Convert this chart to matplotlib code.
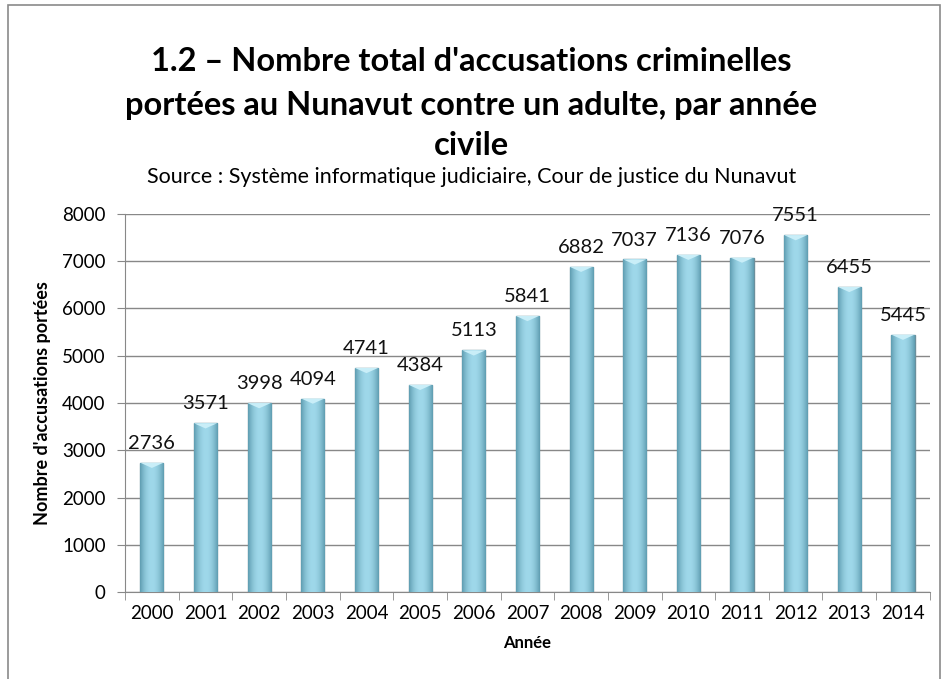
import matplotlib.pyplot as plt
import numpy as np
from matplotlib.patches import Rectangle, Polygon

plt.rcParams['font.family'] = ['Lato', 'DejaVu Sans']

years = ['2000', '2001', '2002', '2003', '2004', '2005', '2006', '2007',
         '2008', '2009', '2010', '2011', '2012', '2013', '2014']
charges = [2736, 3571, 3998, 4094, 4741, 4384, 5113, 5841,
           6882, 7037, 7136, 7076, 7551, 6455, 5445]

fig = plt.figure(figsize=(9.43, 6.79), dpi=100)
ax = fig.add_axes([0.1326, 0.128, 0.8534, 0.557])

x = np.arange(len(years))
bars = ax.bar(x, charges, width=0.43, color='#86c6db', edgecolor='#6b8f9c', linewidth=1.0, zorder=3)

# horizontal shading inside each bar (dark edges, light middle)
grad = np.abs(np.linspace(-1, 1, 64)) ** 2
cmap = plt.matplotlib.colors.LinearSegmentedColormap.from_list('bar', ['#9fd8ea', '#5f9db1'])
for b in bars:
    im = ax.imshow(grad[None, :], cmap=cmap, aspect='auto', zorder=3.5,
                   extent=[b.get_x(), b.get_x() + b.get_width(), 0, b.get_height()])
    im.set_clip_path(b)
    # light bevel at the top of the bar
    x0, w, h = b.get_x(), b.get_width(), b.get_height()
    ax.add_patch(Polygon([[x0, h], [x0 + w, h], [x0 + w * 0.5, h - 110]],
                         closed=True, color='#c9eef8', zorder=4, linewidth=0))
ax.set_aspect('auto')

for xi, v in zip(x, charges):
    ax.text(xi, v + 230, str(v), ha='center', va='bottom', fontsize=14.5, color='#111111')

ax.set_xlim(-0.5, len(years) - 0.5)
ax.set_ylim(0, 8000)
ax.set_yticks(range(0, 8001, 1000))
ax.set_xticks(x)
ax.set_xticklabels(years, fontsize=13.5)
ax.set_xticks(np.arange(-0.5, len(years), 1), minor=True)
ax.tick_params(axis='x', which='major', length=0, pad=9)
ax.tick_params(axis='x', which='minor', length=6, color='#888888')
ax.tick_params(axis='y', length=6, color='#888888', labelsize=13.5, pad=8)
ax.yaxis.grid(True, color='#888888', linewidth=1.0, zorder=0)
ax.set_axisbelow(True)
for s in ['top', 'right']:
    ax.spines[s].set_visible(False)
for s in ['left', 'bottom']:
    ax.spines[s].set_color('#888888')

ax.set_xlabel('Année', fontsize=12, fontweight='bold', labelpad=10)
ax.set_ylabel("Nombre d'accusations portées", fontsize=13, fontweight='bold', labelpad=8)

fig.text(0.5, 0.909, "1.2 – Nombre total d'accusations criminelles", ha='center', va='center',
         fontsize=23.5, fontweight='bold')
fig.text(0.5, 0.845, "portées au Nunavut contre un adulte, par année", ha='center', va='center',
         fontsize=23.5, fontweight='bold')
fig.text(0.5, 0.785, "civile", ha='center', va='center', fontsize=23.5, fontweight='bold')
fig.text(0.5, 0.740, "Source : Système informatique judiciaire, Cour de justice du Nunavut",
         ha='center', va='center', fontsize=15.5)

fig.patches.append(Rectangle((0.008, -0.01), 0.989, 1.002, transform=fig.transFigure,
                             fill=False, edgecolor='#8a8a8a', linewidth=1.2))

fig.savefig('out.png', dpi=100)
